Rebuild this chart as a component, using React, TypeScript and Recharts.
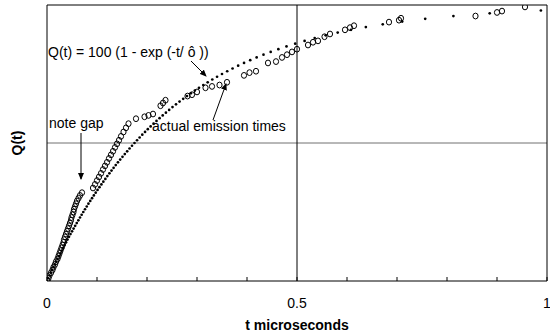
import React from 'react';
import { ScatterChart, Scatter, XAxis, YAxis, ReferenceLine } from 'recharts';

// Theoretical curve Q(t) = 100(1 - exp(-t/tau))
const curveT = [0, 0.0025, 0.0051, 0.0077, 0.0103, 0.013, 0.0156, 0.0183, 0.0211, 0.0238, 0.0266,
  0.0294, 0.0323, 0.0352, 0.0381, 0.041, 0.044, 0.047, 0.0501, 0.0532, 0.0563,
  0.0595, 0.0627, 0.066, 0.0693, 0.0726, 0.076, 0.0795, 0.0829, 0.0865, 0.0901,
  0.0937, 0.0974, 0.1011, 0.1049, 0.1088, 0.1127, 0.1167, 0.1207, 0.1248, 0.129,
  0.1332, 0.1375, 0.1419, 0.1464, 0.151, 0.1556, 0.1603, 0.1651, 0.17, 0.175,
  0.1801, 0.1853, 0.1906, 0.1961, 0.2016, 0.2073, 0.2131, 0.219, 0.2251, 0.2314,
  0.2378, 0.2443, 0.251, 0.258, 0.2651, 0.2724, 0.2799, 0.2877, 0.2957, 0.304,
  0.3126, 0.3214, 0.3306, 0.3401, 0.35, 0.3604, 0.3711, 0.3823, 0.3941, 0.4064,
  0.4193, 0.433, 0.4474, 0.4627, 0.479, 0.4964, 0.5152, 0.5354, 0.5573, 0.5814,
  0.608, 0.6377, 0.6715, 0.7104, 0.7564, 0.8128, 0.8854, 0.9878];
const curveQ = [0, 1, 2, 3, 4, 5, 6, 7, 8, 9, 10,
  11, 12, 13, 14, 15, 16, 17, 18, 19, 20,
  21, 22, 23, 24, 25, 26, 27, 28, 29, 30,
  31, 32, 33, 34, 35, 36, 37, 38, 39, 40,
  41, 42, 43, 44, 45, 46, 47, 48, 49, 50,
  51, 52, 53, 54, 55, 56, 57, 58, 59, 60,
  61, 62, 63, 64, 65, 66, 67, 68, 69, 70,
  71, 72, 73, 74, 75, 76, 77, 78, 79, 80,
  81, 82, 83, 84, 85, 86, 87, 88, 89, 90,
  91, 92, 93, 94, 95, 96, 97, 98];

// Actual emission times (open circles)
const emitT = [0.001, 0.003, 0.005, 0.008, 0.011, 0.013, 0.016, 0.018, 0.021, 0.023, 0.025,
  0.027, 0.029, 0.031, 0.033, 0.034, 0.036, 0.038, 0.04, 0.042, 0.044,
  0.046, 0.048, 0.049, 0.051, 0.053, 0.054, 0.056, 0.058, 0.06, 0.063, 0.066, 0.07,
  0.092, 0.096, 0.1, 0.104, 0.108, 0.112, 0.116, 0.12, 0.124, 0.128, 0.132, 0.136,
  0.14, 0.144, 0.148, 0.153, 0.158, 0.163, 0.178, 0.195, 0.203, 0.212, 0.227, 0.232,
  0.237, 0.281, 0.29, 0.3, 0.317, 0.33, 0.345, 0.36, 0.394, 0.405, 0.418, 0.442,
  0.458, 0.47, 0.48, 0.49, 0.5, 0.522, 0.532, 0.542, 0.555, 0.566, 0.596, 0.606,
  0.614, 0.684, 0.704, 0.708, 0.857, 0.9, 0.91, 0.956];
const emitQ = [0, 1, 2, 3, 4, 5, 6, 7, 8, 9, 10,
  11, 12, 13, 14, 15, 16, 17, 18, 19, 20,
  21, 22, 23, 24, 25, 26, 27, 28, 29, 30, 31, 32,
  33.7, 35, 36.4, 37.7, 39, 40.4, 41.7, 43, 44.4, 45.7, 47, 48.4,
  49.7, 51, 52.4, 54, 55.5, 57, 58.8, 59.5, 60, 60.5, 63.5, 64.5,
  65.5, 67, 67.5, 68.5, 70, 70.5, 71, 72, 74.5, 75.5, 76, 79,
  79.5, 81, 82, 83, 84, 85.5, 86.5, 87, 88.5, 89.5, 91, 91.8,
  92.5, 93.8, 94.5, 95.2, 96, 97.3, 97.8, 99.3];

const xTicks = [0, 0.1, 0.2, 0.3, 0.4, 0.5, 0.6, 0.7, 0.8, 0.9, 1];
const xTickLabels = ['0', '', '', '', '', '0.5', '', '', '', '', '1'];

const curveData = curveT.map((t, i) => ({ x: t, y: curveQ[i] }));
const emitData = emitT.map((t, i) => ({ x: t, y: emitQ[i] }));

const FONT = '"Liberation Sans", Arial, sans-serif';

const XTick = (props: any) => {
  const { x, y, index } = props;
  const label = xTickLabels[index] ?? '';
  return (
    <g>
      <line x1={x} y1={y} x2={x} y2={y - 4} stroke="#000" strokeWidth={1} />
      {label !== '' && (
        <text x={x} y={y + 27} textAnchor="middle" fontSize={14} fontFamily={FONT} fill="#000">
          {label}
        </text>
      )}
    </g>
  );
};

const DotShape = (p: any) => <circle cx={p.cx} cy={p.cy} r={1.35} fill="#000" />;
const RingShape = (p: any) => (
  <ellipse cx={p.cx} cy={p.cy} rx={2.6} ry={2.9} fill="none" stroke="#000" strokeWidth={1} />
);

export default function App() {
  return (
    <div style={{ position: 'absolute', left: 0, top: 0, width: 550, height: 336, background: '#fff' }}>
      <ScatterChart width={550} height={336} margin={{ top: 5, right: 3, bottom: 0, left: 0 }}>
        <XAxis
          type="number"
          dataKey="x"
          domain={[0, 1]}
          ticks={xTicks}
          interval={0}
          height={55}
          tickLine={false}
          tickSize={0}
          tickMargin={0}
          axisLine={{ stroke: '#000', strokeWidth: 1 }}
          tick={<XTick />}
          allowDataOverflow
        />
        <YAxis
          type="number"
          dataKey="y"
          domain={[0, 100]}
          width={47}
          tick={false}
          tickLine={false}
          axisLine={{ stroke: '#000', strokeWidth: 1 }}
          allowDataOverflow
        />
        <ReferenceLine y={50} stroke="#707070" strokeWidth={1} />
        <ReferenceLine x={0.5} stroke="#000" strokeWidth={1} />
        <ReferenceLine y={100} stroke="#000" strokeWidth={1} />
        <ReferenceLine x={1} stroke="#000" strokeWidth={1} />
        <Scatter data={curveData} shape={DotShape} isAnimationActive={false} />
        <Scatter data={emitData} shape={RingShape} isAnimationActive={false} />
      </ScatterChart>
      <svg
        width={550}
        height={336}
        style={{ position: 'absolute', left: 0, top: 0, pointerEvents: 'none' }}
      >
        <defs>
          <marker id="ah" markerWidth="7" markerHeight="6" refX="6" refY="3" orient="auto" markerUnits="userSpaceOnUse">
            <path d="M0,0 L7,3 L0,6 z" fill="#000" />
          </marker>
        </defs>
        <text x={48} y={57} fontSize={14} fontFamily={FONT} fill="#000">Q(t) = 100 (1 - exp (-t/ ô ))</text>
        <line x1={191} y1={61} x2={206} y2={76} stroke="#000" strokeWidth={1} markerEnd="url(#ah)" />
        <text x={49} y={128} fontSize={14} fontFamily={FONT} fill="#000">note gap</text>
        <line x1={81} y1={133} x2={81} y2={179} stroke="#000" strokeWidth={1} markerEnd="url(#ah)" />
        <text x={152} y={131} fontSize={14} fontFamily={FONT} fill="#000">actual emission times</text>
        <line x1={213} y1={120} x2={226} y2={84} stroke="#000" strokeWidth={1} markerEnd="url(#ah)" />
        <text
          x={22}
          y={143}
          fontSize={14}
          fontWeight="bold"
          fontFamily={FONT}
          textAnchor="middle"
          transform="rotate(-90 22 143)"
          fill="#000"
        >
          Q(t)
        </text>
        <text x={297} y={330} fontSize={14} fontWeight="bold" fontFamily={FONT} textAnchor="middle" fill="#000">
          t microseconds
        </text>
      </svg>
    </div>
  );
}
